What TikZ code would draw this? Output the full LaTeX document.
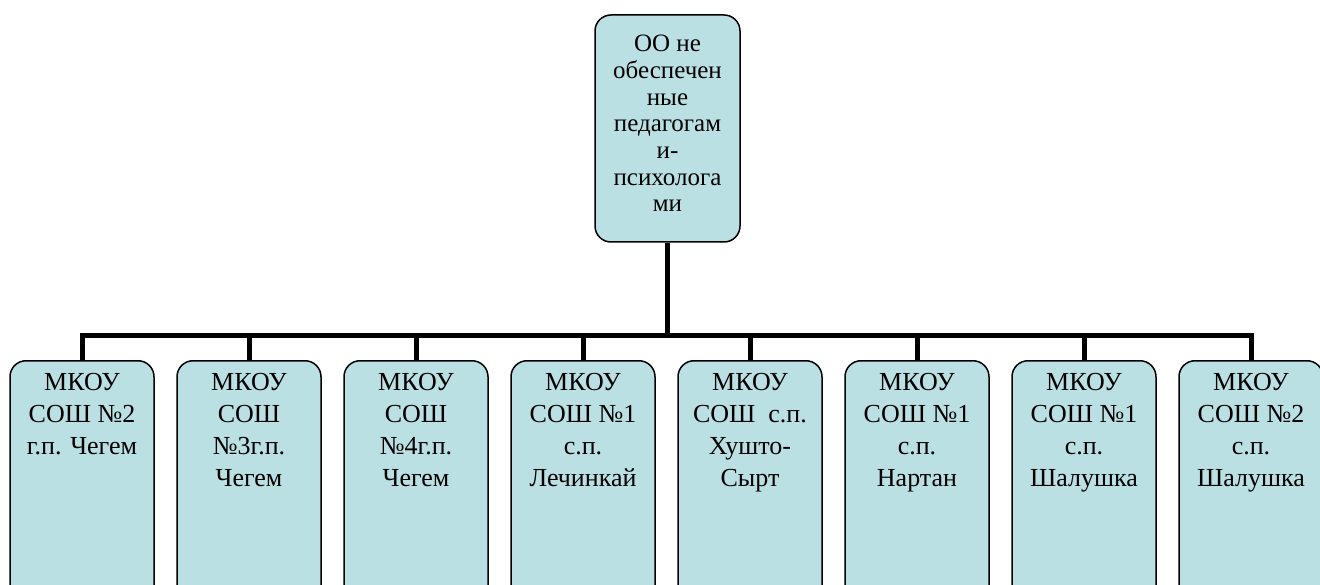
\documentclass[tikz,border=0pt]{standalone}
\usepackage{fontspec}
\setmainfont{Liberation Serif}
\definecolor{boxblue}{HTML}{BBE0E3}
\tikzset{
  unit/.style={draw=black, line width=1.5pt, fill=boxblue, rounded corners=16pt,
    minimum width=144pt, inner sep=0pt},
  school/.style={anchor=north, align=center, inner sep=0pt, yshift=-13pt,
    font=\fontsize{26}{32}\selectfont},
  headtext/.style={align=center, inner sep=0pt, yshift=5pt,
    font=\fontsize{25}{26.7}\selectfont},
  bus/.style={line width=5pt}
}

\begin{document}
\begin{tikzpicture}[x=1pt,y=-1pt]
  \useasboundingbox (0,0) rectangle (1320,585);
  \clip (0,0) rectangle (1320,585);

  \node[unit, minimum width=145pt, minimum height=227pt,
        label={[headtext]center:{ОО не\\обеспечен\\ные\\педагогам\\и-\\психолога\\ми}}]
    (top) at (667.5,128.5) {};

  \foreach \i/\x/\txt in {
      1/82/{МКОУ\\СОШ №2\\г.п. Чегем},
      2/249/{МКОУ\\СОШ\\№3г.п.\\Чегем},
      3/416/{МКОУ\\СОШ\\№4г.п.\\Чегем},
      4/583/{МКОУ\\СОШ №1\\с.п.\\Лечинкай},
      5/750/{МКОУ\\СОШ\ \ с.п.\\Хушто-\\Сырт},
      6/917/{МКОУ\\СОШ №1\\с.п.\\Нартан},
      7/1084/{МКОУ\\СОШ №1\\с.п.\\Шалушка},
      8/1251/{МКОУ\\СОШ №2\\с.п.\\Шалушка}}
    \node[unit, anchor=north, minimum height=250pt,
          label={[school]north:{\txt}}] (b\i) at (\x,360) {};

  \coordinate (bus) at (667.5,336);
  \draw[bus] (top.south) -- (bus);
  \draw[bus] (b1.north) |- (bus) -| (b8.north);
  \foreach \i in {2,...,7}
    \draw[bus] (b\i.north) -- (b\i.north |- bus);
\end{tikzpicture}
\end{document}
